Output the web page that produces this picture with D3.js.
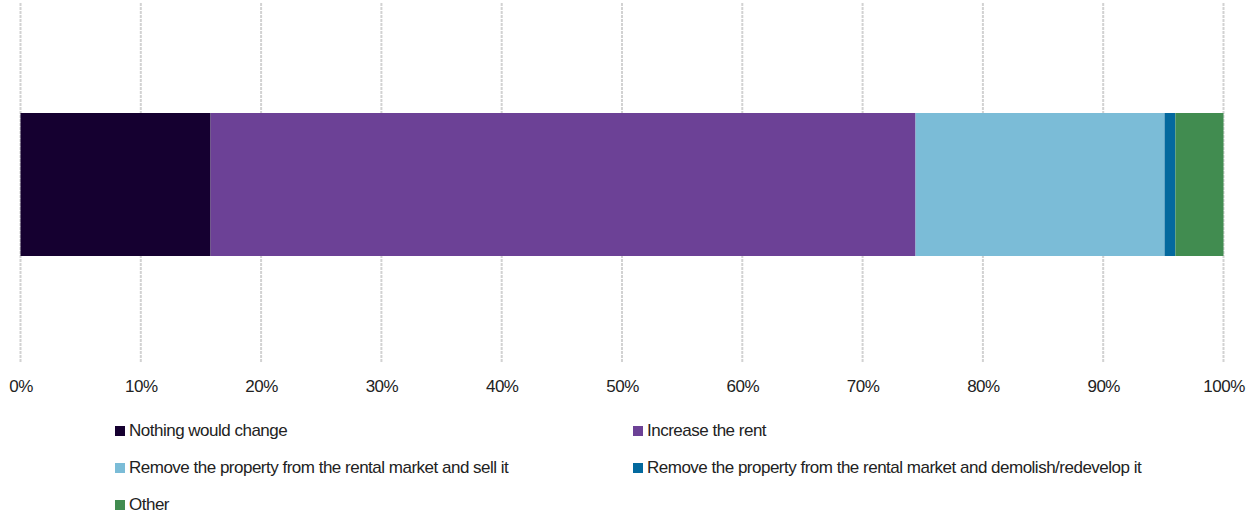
<!DOCTYPE html>
<html>
<head>
<meta charset="utf-8">
<script src="https://cdn.jsdelivr.net/npm/d3@7"></script>
<style>
  html, body { margin: 0; padding: 0; background: #fff; }
  svg text { font-family: "Liberation Sans", Arial, sans-serif; fill: #222; }
</style>
</head>
<body>
<svg id="chart" width="1258" height="516"></svg>
<script>
// Share of responses (%) for each outcome
const categories = [
  "Nothing would change",
  "Increase the rent",
  "Remove the property from the rental market and sell it",
  "Remove the property from the rental market and demolish/redevelop it",
  "Other"
];
const values = [15.8, 58.6, 20.7, 0.9, 4.0];
const colors = ["#150030", "#6c4196", "#7bbcd7", "#03699e", "#418c50"];
const tickValues = [0, 10, 20, 30, 40, 50, 60, 70, 80, 90, 100];
const rows = ["All"];

const svg = d3.select("#chart");

const x = d3.scaleLinear().domain([0, 100]).range([20.5, 1223.5]);
const y = d3.scaleBand().domain(rows).range([113, 256]).padding(0);

// vertical gridlines
svg.append("g")
  .selectAll("line")
  .data(tickValues)
  .join("line")
  .attr("x1", d => x(d)).attr("x2", d => x(d))
  .attr("y1", 3).attr("y2", 363)
  .attr("stroke", "#d2d2d2")
  .attr("stroke-width", 2)
  .attr("stroke-dasharray", "3,1");

// stacked segments
let acc = 0;
const segs = values.map((v, i) => {
  const s = { key: categories[i], x0: acc, x1: acc + v, color: colors[i] };
  acc += v;
  return s;
});

svg.append("g")
  .selectAll("rect")
  .data(segs)
  .join("rect")
  .attr("x", d => x(d.x0))
  .attr("width", d => x(d.x1) - x(d.x0))
  .attr("y", y("All"))
  .attr("height", y.bandwidth())
  .attr("fill", d => d.color);

// x axis labels
const axis = d3.axisBottom(x)
  .tickValues(tickValues)
  .tickFormat(d => d + "%")
  .tickSize(0)
  .tickPadding(0);

const gx = svg.append("g").attr("transform", "translate(0,380)").call(axis);
gx.select(".domain").remove();
gx.selectAll("text")
  .attr("dy", "0.71em")
  .style("font-size", "17px")
  .style("letter-spacing", "-0.5px")
  .style("fill", "#222");

// legend
const legendPos = [
  [115, 436], [633, 436],
  [115, 473], [633, 473],
  [115, 510]
];
const lg = svg.append("g")
  .selectAll("g")
  .data(categories)
  .join("g")
  .attr("transform", (d, i) => `translate(${legendPos[i][0]},${legendPos[i][1]})`);

lg.append("rect")
  .attr("x", 0).attr("y", -10)
  .attr("width", 10).attr("height", 10)
  .attr("fill", (d, i) => colors[i]);

lg.append("text")
  .attr("x", 14).attr("y", 0)
  .style("font-size", "17px")
  .style("letter-spacing", "-0.5px")
  .text(d => d);
</script>
</body>
</html>
